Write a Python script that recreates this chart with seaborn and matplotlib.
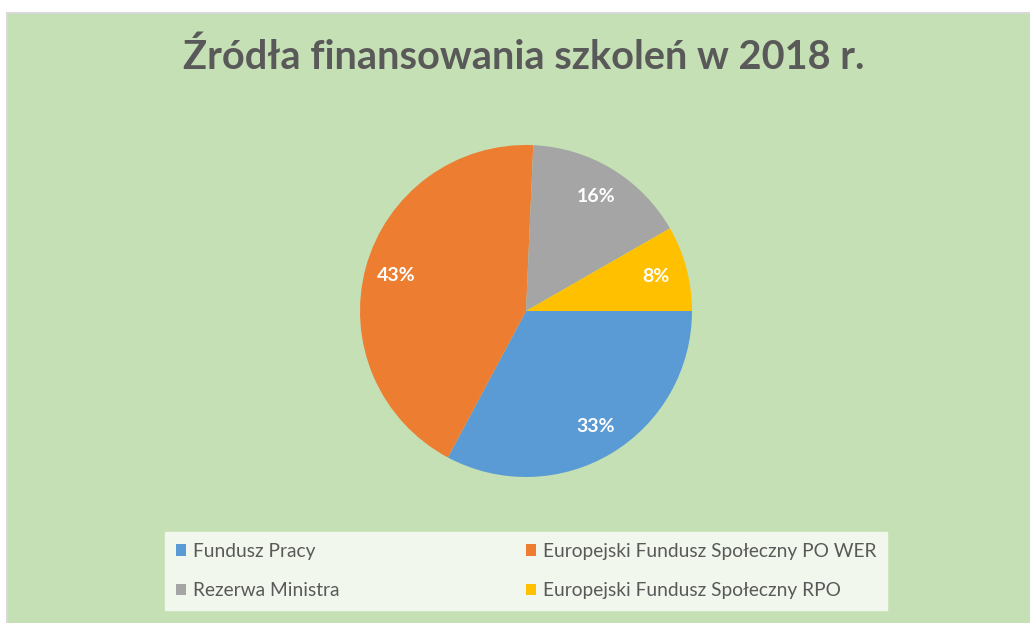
import matplotlib
matplotlib.use("Agg")
import matplotlib.pyplot as plt
import seaborn as sns
from matplotlib.patches import Rectangle, Patch
from matplotlib.lines import Line2D

# data
labels = ["Fundusz Pracy",
          "Europejski Fundusz Społeczny PO WER",
          "Rezerwa Ministra",
          "Europejski Fundusz Społeczny RPO"]
shares = [32.8, 42.9, 16.0, 8.3]
colors = ["#5B9BD5", "#ED7D31", "#A5A5A5", "#FFC000"]
title = "Źródła finansowania szkoleń w 2018 r."

sns.set_theme(style="white")
plt.rcParams["font.family"] = ["Lato", "DejaVu Sans"]

W, H = 1030, 623
fig = plt.figure(figsize=(W / 100, H / 100), dpi=100, facecolor="white")

# green chart area with thin grey border on top/left
bg = "#C5E0B4"
fig.patches.append(Rectangle((8 / W, 0), 1, 1 - 13 / H, transform=fig.transFigure,
                             facecolor=bg, edgecolor="none", zorder=-2))
fig.add_artist(Line2D([7 / W, 1], [1 - 13 / H] * 2, transform=fig.transFigure,
                      color="#D9D9D9", lw=1.5))
fig.add_artist(Line2D([7 / W] * 2, [0, 1 - 13 / H], transform=fig.transFigure,
                      color="#D9D9D9", lw=1.5))

# pie axes: centre (526, 311) px, radius 166 px
cx, cy, r = 526, 311, 166
ax = fig.add_axes([(cx - r) / W, (H - cy - r) / H, 2 * r / W, 2 * r / H])
wedges, texts, autotexts = ax.pie(
    shares, colors=sns.color_palette(colors), startangle=0, counterclock=False,
    autopct="%1.0f%%", pctdistance=0.81,
    textprops=dict(color="white", fontweight="bold", fontsize=14),
    wedgeprops=dict(linewidth=0))
ax.set_xlim(-1, 1)
ax.set_ylim(-1, 1)
ax.set_aspect("equal")
ax.axis("off")

fig.text(524 / W, 1 - 57 / H, title, ha="center", va="center",
         fontsize=28.6, fontweight="bold", color="#595959")

# legend: column-first fill, so reorder for row layout
order = [0, 2, 1, 3]
handles = [Patch(facecolor=colors[i], edgecolor="none") for i in order]
leg = fig.legend(handles, [labels[i] for i in order], ncol=2,
                 loc="upper left", bbox_to_anchor=(165 / W, 1 - 532 / H),
                 frameon=True, fancybox=False, facecolor="#F2F7EE", edgecolor="#F2F7EE",
                 framealpha=1, fontsize=13.75, handlelength=0.56, handleheight=0.56,
                 handletextpad=0.35, columnspacing=9.75, labelspacing=1.2,
                 borderpad=0.55, borderaxespad=0)
for t in leg.get_texts():
    t.set_color("#595959")

fig.savefig("out.png", dpi=100, facecolor="white")
